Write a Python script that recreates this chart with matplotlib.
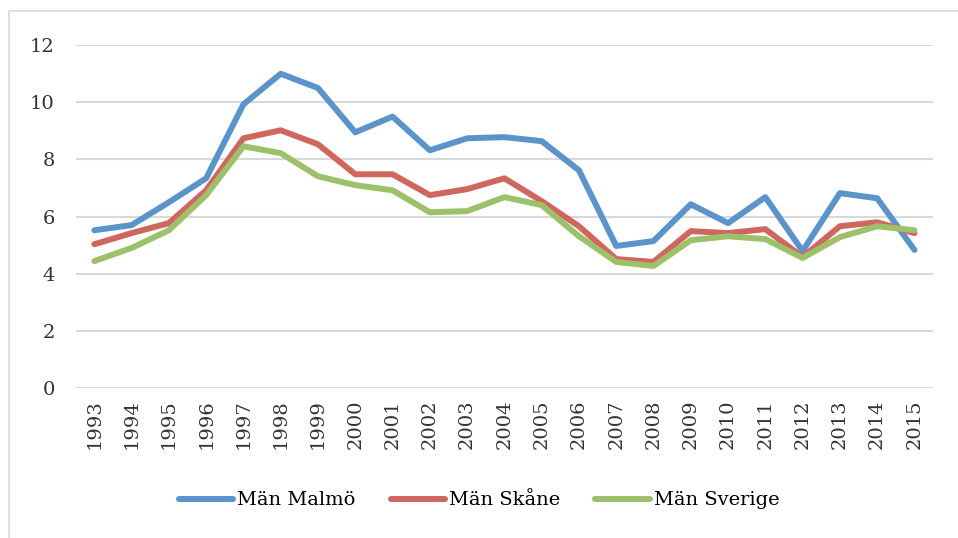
import matplotlib.pyplot as plt
from matplotlib.patches import Rectangle

years = [str(y) for y in range(1993, 2016)]
malmo = [5.52, 5.7, 6.5, 7.34, 9.93, 11.0, 10.5, 8.95, 9.5, 8.32, 8.74, 8.78,
         8.64, 7.62, 4.97, 5.14, 6.43, 5.77, 6.68, 4.79, 6.82, 6.64, 4.83]
skane = [5.03, 5.42, 5.77, 6.92, 8.74, 9.02, 8.53, 7.48, 7.48, 6.75, 6.96, 7.34,
         6.54, 5.66, 4.51, 4.41, 5.49, 5.42, 5.56, 4.58, 5.66, 5.80, 5.42]
sverige = [4.44, 4.9, 5.52, 6.75, 8.46, 8.22, 7.41, 7.1, 6.92, 6.15, 6.19, 6.68,
           6.4, 5.31, 4.41, 4.27, 5.17, 5.31, 5.21, 4.55, 5.28, 5.66, 5.52]

plt.rcParams['font.family'] = ['DejaVu Serif']

fig = plt.figure(figsize=(9.58, 5.38), dpi=100)
ax = fig.add_axes([0.079, 0.279, 0.895, 0.637])

x = range(len(years))
ax.plot(x, malmo, color='#5B93CB', lw=4.3, label='Män Malmö', solid_capstyle='round')
ax.plot(x, skane, color='#D0675F', lw=4.3, label='Män Skåne', solid_capstyle='round')
ax.plot(x, sverige, color='#9DC16A', lw=4.3, label='Män Sverige', solid_capstyle='round')

ax.set_ylim(0, 12)
ax.set_xlim(-0.5, len(years) - 0.5)
ax.set_yticks(range(0, 13, 2))
ax.set_xticks(list(x))
ax.set_xticklabels(years, rotation=90)
ax.tick_params(length=0, labelsize=14, colors='#333333', pad=8)
ax.tick_params(axis='y', pad=15)
ax.yaxis.grid(True, color='#D9D9D9', lw=1.5)
ax.set_axisbelow(True)
for s in ax.spines.values():
    s.set_visible(False)

fig.legend(loc='center', bbox_to_anchor=(0.5, 0.07), ncol=3, frameon=False,
           fontsize=14, handlelength=2.8, handletextpad=0.2, columnspacing=1.8)

fig.add_artist(Rectangle((0.009, -0.01), 1.2, 0.99, transform=fig.transFigure,
                         fill=False, edgecolor='#D9D9D9', lw=1.2))

fig.savefig('out.png')
